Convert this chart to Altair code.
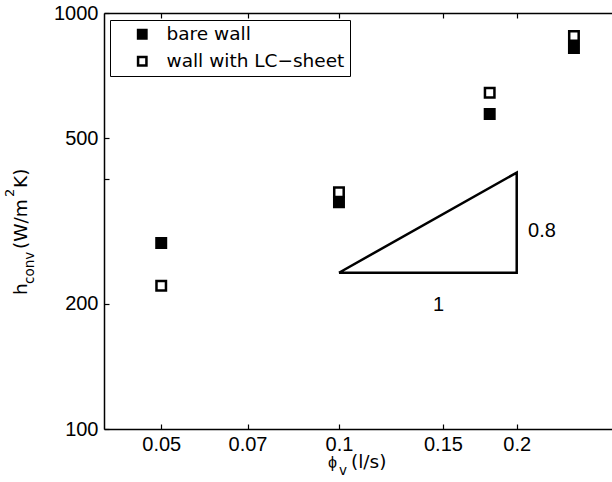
import altair as alt
import pandas as pd

# ---- data ----
flow = [0.05, 0.1, 0.18, 0.25]                # phi_v (l/s)
bare_wall = [280, 351, 572, 824]              # h_conv, bare wall
lc_sheet = [221, 371, 643, 880]               # h_conv, wall with LC-sheet
series_names = ["bare wall", "wall with LC\u2212sheet"]

x_ticks = [0.05, 0.07, 0.1, 0.15, 0.2]
y_ticks = [100, 200, 400, 500, 1000]
x_domain = [0.04, 0.29]
y_domain = [100, 1000]

# slope triangle (slope 0.8 on log-log axes)
tri_x = [0.1, 0.2, 0.2, 0.1]
tri_y = [237.5, 237.5, 413.5, 237.5]
slope_labels = ["1", "0.8"]
slope_x = [0.1475, 0.209]
slope_y = [199, 300]
slope_align = ["center", "left"]

FONT = "Liberation Sans"
WFONT = "DejaVu Sans"
FS = 20
TICK = 5

pts = pd.DataFrame({
    "phi": flow + flow,
    "h": lc_sheet + bare_wall,
    "series": [series_names[1]] * len(flow) + [series_names[0]] * len(flow),
    "ord": list(range(2 * len(flow))),
})
tri = pd.DataFrame({"phi": tri_x, "h": tri_y, "ord": list(range(len(tri_x)))})
lab = pd.DataFrame({"phi": slope_x, "h": slope_y, "t": slope_labels, "a": slope_align})

xscale = alt.Scale(type="log", domain=x_domain, nice=False)
yscale = alt.Scale(type="log", domain=y_domain, nice=False)

base_axis = dict(grid=False, title=None, domainColor="black", domainWidth=1.5,
                 labelFont=FONT, labelFontSize=FS, labelColor="black",
                 labelOverlap=False)
# axis drawing only domain line + labels
line_axis = dict(base_axis, ticks=False)
# axis drawing only inward tick marks (shifted inside by the tick length)
tick_axis = dict(grid=False, title=None, domain=False, labels=False, ticks=True,
                 tickColor="black", tickWidth=1.2, tickSize=TICK, offset=-TICK)

points = alt.Chart(pts).mark_point(
    shape="square", filled=True, size=90, stroke="black", strokeWidth=2.5, opacity=1
).encode(
    x=alt.X("phi:Q", scale=xscale,
            axis=alt.Axis(orient="bottom", values=x_ticks, format="~g",
                          labelPadding=5, labelFlush=False, **line_axis)),
    y=alt.Y("h:Q", scale=yscale,
            axis=alt.Axis(orient="left", values=y_ticks, format="d",
                          labelExpr="datum.value == 400 ? '' : datum.label",
                          labelPadding=6, **line_axis)),
    fill=alt.Fill("series:N",
                  scale=alt.Scale(domain=series_names, range=["black", "white"]),
                  legend=alt.Legend(title=None)),
    order=alt.Order("ord:Q"),
)

triangle = alt.Chart(tri).mark_line(color="black", strokeWidth=2.5).encode(
    x=alt.X("phi:Q", scale=xscale,
            axis=alt.Axis(orient="bottom", values=x_ticks, **tick_axis)),
    y=alt.Y("h:Q", scale=yscale,
            axis=alt.Axis(orient="left", values=y_ticks, **tick_axis)),
    order=alt.Order("ord:Q"),
)

labels_1 = alt.Chart(lab[lab.a == "center"]).mark_text(
    font=FONT, fontSize=20, color="black", align="center", baseline="middle"
).encode(
    x=alt.X("phi:Q", scale=xscale,
            axis=alt.Axis(orient="top", values=x_ticks, labels=False, **line_axis)),
    y=alt.Y("h:Q", scale=yscale, axis=None),
    text="t:N",
)
labels_2 = alt.Chart(lab[lab.a == "left"]).mark_text(
    font=FONT, fontSize=20, color="black", align="left", baseline="middle"
).encode(
    x=alt.X("phi:Q", scale=xscale,
            axis=alt.Axis(orient="top", values=x_ticks, **tick_axis)),
    y=alt.Y("h:Q", scale=yscale, axis=None),
    text="t:N",
)

one = pd.DataFrame({"k": [0]})


def txt(s, x, y, size, angle=0, font=WFONT):
    return alt.Chart(one).mark_text(
        font=font, fontSize=size, color="black", align="left",
        baseline="alphabetic", angle=angle
    ).encode(x=alt.value(x), y=alt.value(y), text=alt.value(s))


# axis titles with sub/superscripts
ytitle = [
    txt("h", -77, 282, 18.5, 270),
    txt("conv", -70, 271, 13.5, 270),
    txt("(W/m", -77, 236, 18.5, 270),
    txt("2", -90, 184, 13, 270),
    txt("K)", -77, 175, 18.5, 270),
]
xtitle = [
    txt("\u03d5", 224, 455, 16, 0, FONT),
    txt("v", 235, 462, 13.5),
    txt("(l/s)", 247, 455, 18.5),
]

chart = alt.layer(
    triangle, points, labels_1, labels_2, *ytitle, *xtitle
).resolve_axis(x="independent", y="independent").properties(
    width=508, height=416,
    padding={"left": 104, "top": 13, "right": 0, "bottom": 53},
    autosize=alt.AutoSizeParams(type="none"),
).configure_view(stroke=None).configure_legend(
    orient="none", legendX=6, legendY=7, strokeColor="black", fillColor="white",
    padding=5, labelFont=WFONT, labelFontSize=18.5, labelColor="black",
    labelLimit=400,
    symbolType="square", symbolSize=70, symbolStrokeColor="black",
    symbolStrokeWidth=2.5, symbolOffset=18, labelOffset=15, rowPadding=8,
)

chart.save("out.html", embed_options={"renderer": "svg", "actions": False})
